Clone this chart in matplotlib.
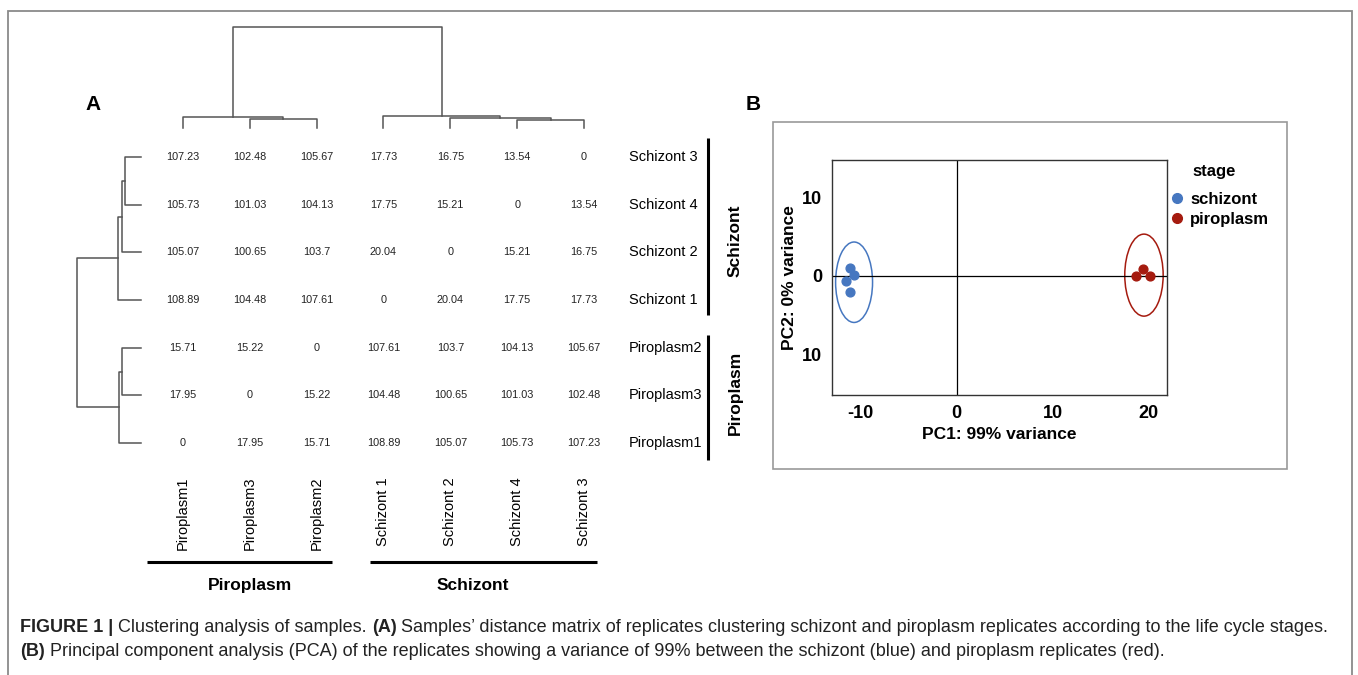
import matplotlib

matplotlib.use("Agg")

import matplotlib.pyplot as plt
from matplotlib.patches import Ellipse, Rectangle
from matplotlib.lines import Line2D

plt.rcParams["font.family"] = ["Liberation Sans", "DejaVu Sans"]
plt.rcParams["axes.unicode_minus"] = False

W, H = 1358, 675

# ---- panel A data ----
col_labels = ["Piroplasm1", "Piroplasm3", "Piroplasm2",
              "Schizont 1", "Schizont 2", "Schizont 4", "Schizont 3"]
row_labels = ["Schizont 3", "Schizont 4", "Schizont 2", "Schizont 1",
              "Piroplasm2", "Piroplasm3", "Piroplasm1"]
dist_s3 = [107.23, 102.48, 105.67, 17.73, 16.75, 13.54, 0]
dist_s4 = [105.73, 101.03, 104.13, 17.75, 15.21, 0, 13.54]
dist_s2 = [105.07, 100.65, 103.7, 20.04, 0, 15.21, 16.75]
dist_s1 = [108.89, 104.48, 107.61, 0, 20.04, 17.75, 17.73]
dist_p2 = [15.71, 15.22, 0, 107.61, 103.7, 104.13, 105.67]
dist_p3 = [17.95, 0, 15.22, 104.48, 100.65, 101.03, 102.48]
dist_p1 = [0, 17.95, 15.71, 108.89, 105.07, 105.73, 107.23]
dist_rows = [dist_s3, dist_s4, dist_s2, dist_s1, dist_p2, dist_p3, dist_p1]

# merges as (left id, right id); leaves are 0..6 in display order
col_tree_pairs = [(1, 2), (0, 7), (5, 6), (4, 9), (3, 10), (8, 11)]
col_tree_heights = [10.0, 11.9, 8.6, 10.3, 12.5, 108.89]
row_tree_pairs = [(0, 1), (2, 7), (3, 8), (4, 5), (6, 10), (9, 11)]
row_tree_heights = [27.2, 32.3, 39.1, 32.3, 37.4, 108.89]

# ---- panel B data ----
schizont_pc1 = [-11.1, -10.7, -11.5, -11.1]
schizont_pc2 = [1.0, 0.1, -0.7, -2.0]
piroplasm_pc1 = [19.4, 18.7, 20.1]
piroplasm_pc2 = [0.9, 0.0, 0.0]
ellipse_centers = [(-10.7, -0.8), (19.5, 0.1)]
ellipse_sizes = [(3.85, 10.2), (4.0, 10.4)]
pca_xticks = [-10, 0, 10, 20]
pca_yticks = [10, 0, -10]
pca_yticklabels = ["10", "0", "10"]

BLUE = "#4677c0"
RED = "#a51b0f"
TREE = "#555555"


def px_box(x0, y0, x1, y1):
    return [x0 / W, 1 - y1 / H, (x1 - x0) / W, (y1 - y0) / H]


def draw_tree(ax, pairs, heights, horizontal):
    pos = {i: float(i) for i in range(len(pairs) + 1)}
    hgt = {i: 0.0 for i in range(len(pairs) + 1)}
    for k, ((a, b), h) in enumerate(zip(pairs, heights)):
        node = len(pairs) + 1 + k
        xs = [pos[a], pos[a], pos[b], pos[b]]
        ys = [hgt[a], h, h, hgt[b]]
        if horizontal:
            ax.plot(ys, xs, color=TREE, lw=1.1, clip_on=False)
        else:
            ax.plot(xs, ys, color=TREE, lw=1.1, clip_on=False)
        pos[node] = (pos[a] + pos[b]) / 2
        hgt[node] = h


fig = plt.figure(figsize=(W / 100, H / 100), dpi=100)

# outer frame of the figure
fig.patches.append(Rectangle((8 / W, -0.02), 1344 / W, 1.02 - 11 / H,
                             transform=fig.transFigure, fill=False,
                             edgecolor="#8a8a8a", lw=1.3))

# heatmap text matrix
ax = fig.add_axes(px_box(149.6, 133.2, 617.4, 466.9))
ax.set_xlim(-0.5, 6.5)
ax.set_ylim(6.5, -0.5)
ax.axis("off")
for i, row in enumerate(dist_rows):
    for j, v in enumerate(row):
        ax.text(j, i, f"{v:g}", ha="center", va="center", fontsize=7.8,
                color="#222222")
for i, lab in enumerate(row_labels):
    ax.text(6.67, i, lab, ha="left", va="center", fontsize=10.5)
for j, lab in enumerate(col_labels):
    ax.text(j, 6.71, lab, ha="center", va="top", rotation=90, fontsize=10.5)

# group bars
ax.plot([7.86, 7.86], [-0.40, 3.31], color="black", lw=2.2, clip_on=False,
        solid_capstyle="butt")
ax.plot([7.86, 7.86], [3.73, 6.36], color="black", lw=2.2, clip_on=False,
        solid_capstyle="butt")
ax.text(8.26, 1.76, "Schizont", rotation=90, ha="center", va="center",
        fontsize=12.5, fontweight="bold")
ax.text(8.26, 4.95, "Piroplasm", rotation=90, ha="center", va="center",
        fontsize=12.5, fontweight="bold")
ax.plot([-0.54, 2.23], [8.50, 8.50], color="black", lw=2.2, clip_on=False,
        solid_capstyle="butt")
ax.plot([2.80, 6.19], [8.50, 8.50], color="black", lw=2.2, clip_on=False,
        solid_capstyle="butt")
ax.text(1.0, 8.98, "Piroplasm", ha="center", va="center", fontsize=12.5,
        fontweight="bold")
ax.text(4.34, 8.98, "Schizont", ha="center", va="center", fontsize=12.5,
        fontweight="bold")

# dendrograms
ax_top = fig.add_axes(px_box(149.6, 27, 617.4, 128))
ax_top.set_xlim(-0.5, 6.5)
ax_top.set_ylim(0, max(col_tree_heights))
ax_top.axis("off")
draw_tree(ax_top, col_tree_pairs, col_tree_heights, horizontal=False)

ax_left = fig.add_axes(px_box(77, 133.2, 141, 466.9))
ax_left.set_ylim(6.5, -0.5)
ax_left.set_xlim(max(row_tree_heights), 0)
ax_left.axis("off")
draw_tree(ax_left, row_tree_pairs, row_tree_heights, horizontal=True)

fig.text(93 / W, 1 - 105 / H, "A", ha="center", va="center", fontsize=15,
         fontweight="bold")

# ---- panel B ----
fig.patches.append(Rectangle((773 / W, 1 - 469 / H), 514 / W, 347 / H,
                             transform=fig.transFigure, fill=False,
                             edgecolor="#999999", lw=1.2))
fig.text(753 / W, 1 - 105 / H, "B", ha="center", va="center", fontsize=15,
         fontweight="bold")

bx = fig.add_axes(px_box(832, 160, 1167, 395))
bx.set_xlim(-13.0, 21.9)
bx.set_ylim(-15.1, 14.7)
bx.axhline(0, color="black", lw=0.9)
bx.axvline(0, color="black", lw=0.9)
for (cx, cy), (ew, eh), c in zip(ellipse_centers, ellipse_sizes, [BLUE, RED]):
    bx.add_patch(Ellipse((cx, cy), ew, eh, fill=False, edgecolor=c, lw=1.1))
bx.scatter(schizont_pc1, schizont_pc2, s=40, color=BLUE, zorder=3)
bx.scatter(piroplasm_pc1, piroplasm_pc2, s=40, color=RED, zorder=3)
bx.set_xticks(pca_xticks)
bx.set_yticks(pca_yticks)
bx.set_yticklabels(pca_yticklabels)
bx.tick_params(length=0, pad=7, labelsize=13)
for lab in bx.get_xticklabels() + bx.get_yticklabels():
    lab.set_fontweight("bold")
for sp in bx.spines.values():
    sp.set_color("#333333")
    sp.set_linewidth(1.0)
bx.set_xlabel("PC1: 99% variance", fontsize=12.5, fontweight="bold",
              labelpad=4)
bx.set_ylabel("PC2: 0% variance", fontsize=12.5, fontweight="bold",
              labelpad=4)

handles = [Line2D([], [], marker="o", ls="", color=BLUE, markersize=7),
           Line2D([], [], marker="o", ls="", color=RED, markersize=7)]
bx.legend(handles, ["schizont", "piroplasm"], loc="upper left",
          bbox_to_anchor=(0.98, 0.905), frameon=False, borderaxespad=0.2,
          handlelength=0.8, handletextpad=0.4, labelspacing=0.3,
          prop={"weight": "bold", "size": 12})
bx.text(1.075, 0.95, "stage", transform=bx.transAxes, ha="left",
        va="center", fontsize=12, fontweight="bold")

# ---- caption ----
cap_font = ["Liberation Sans", "DejaVu Sans"]
cap_size = 12.95
cap_lines = [
    [("FIGURE 1 |", True),
     (" Clustering analysis of samples. ", False),
     ("(A)", True),
     (" Samples\u2019 distance matrix of replicates clustering schizont and "
      "piroplasm replicates according to the life cycle stages.", False)],
    [("(B)", True),
     (" Principal component analysis (PCA) of the replicates showing a "
      "variance of 99% between the schizont (blue) and piroplasm "
      "replicates (red).", False)],
]
cap_y = [627, 652]

renderer = fig.canvas.get_renderer()
for runs, yy in zip(cap_lines, cap_y):
    x = 20.0
    for txt, bold in runs:
        t = fig.text(x / W, 1 - yy / H, txt, ha="left", va="center",
                     fontsize=cap_size, family=cap_font,
                     fontweight="bold" if bold else "normal",
                     color="#222222")
        x += t.get_window_extent(renderer).width

fig.savefig("out.png", dpi=100)
